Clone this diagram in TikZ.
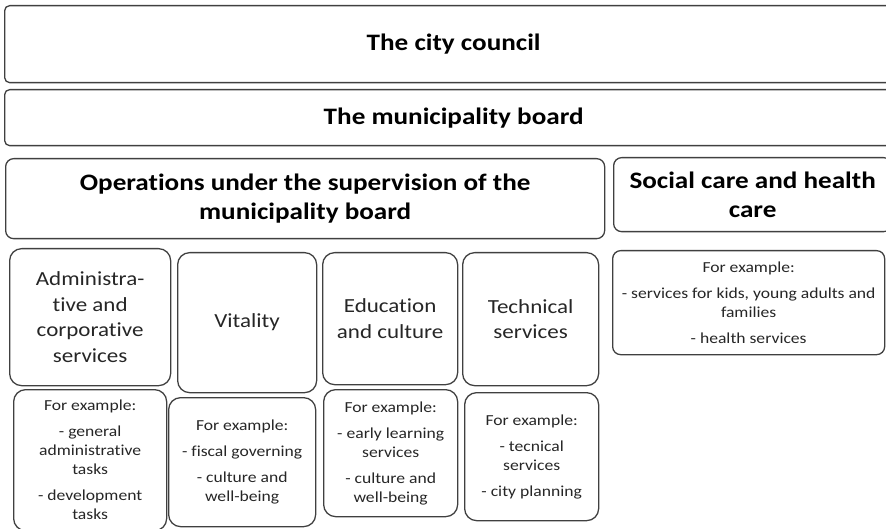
\documentclass[tikz,border=0pt]{standalone}
\usepackage{fontspec}
\setmainfont{Carlito}[FakeStretch=1.15,Ligatures=NoCommon]
\usetikzlibrary{positioning}

\tikzset{
  orgbox/.style={draw=black!75,line width=1.3pt,rounded corners=12pt,
    anchor=north west,inner sep=0pt,align=center,text=black!85},
  headtext/.style={font=\fontsize{23.6}{29}\selectfont\bfseries,text=black},
  unittext/.style={font=\fontsize{20}{25.5}\selectfont},
  extext/.style={font=\fontsize{15.3}{19}\selectfont}
}

\begin{document}
\begin{tikzpicture}[x=1pt,y=-1pt]
\useasboundingbox (0,0) rectangle (886,529);
% top level
\node[orgbox,headtext,rounded corners=5pt,minimum width=898pt,minimum height=77pt]
  (council) at (4,5) {The city council};
\node[orgbox,headtext,rounded corners=5pt,minimum width=898pt,minimum height=56pt]
  (board) at (4,89) {The municipality board};
% operations
\node[orgbox,headtext,rounded corners=8pt,minimum width=599pt,minimum height=80pt]
  (ops) at (5,158) {Operations under the supervision of the\\ municipality board};
\node[orgbox,headtext,rounded corners=8pt,minimum width=278pt,minimum height=74pt]
  (social) at (613,157) {Social care and health\\ care};
\node[orgbox,extext,rounded corners=8pt,minimum width=272pt,minimum height=104pt]
  (socialex) at (612,250) {For example:\\[7pt]
  - services for kids, young adults and\\ families\\[7pt]
  - health services};
% units
\node[orgbox,unittext,minimum width=161pt,minimum height=137pt]
  (admin) at (9,248) {Administra-\\ tive and\\ corporative\\ services};
\node[orgbox,unittext,minimum width=139pt,minimum height=140pt]
  (vital) at (177,252) {Vitality};
\node[orgbox,unittext,minimum width=135pt,minimum height=132pt]
  (edu) at (322,252) {Education\\ and culture};
\node[orgbox,unittext,minimum width=136pt,minimum height=133pt]
  (tech) at (462,252) {Technical\\ services};
% examples
\node[orgbox,extext,minimum width=153pt,minimum height=141pt]
  (adminex) at (13,389) {For example:\\[7pt]
  - general\\ administrative\\ tasks\\[7pt]
  - development\\ tasks};
\node[orgbox,extext,minimum width=147pt,minimum height=129pt]
  (vitalex) at (168,397) {For example:\\[7pt]
  - fiscal governing\\[7pt]
  - culture and\\ well-being};
\node[orgbox,extext,minimum width=134pt,minimum height=127pt]
  (eduex) at (323,389) {For example:\\[7pt]
  - early learning\\ services\\[7pt]
  - culture and\\ well-being};
\node[orgbox,extext,minimum width=134pt,minimum height=128pt]
  (techex) at (464,392) {For example:\\[7pt]
  - tecnical\\ services\\[7pt]
  - city planning};
\end{tikzpicture}
\end{document}
